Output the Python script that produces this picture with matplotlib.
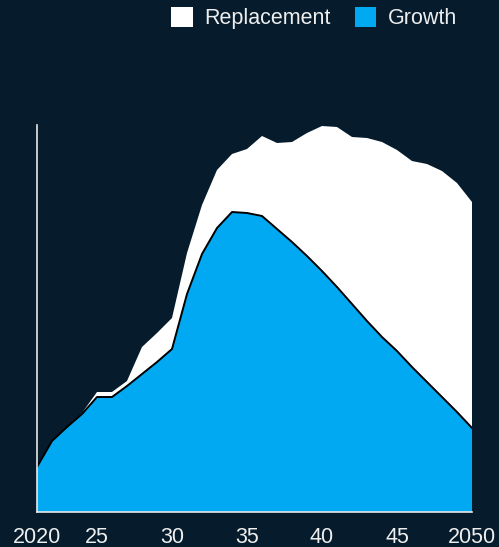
import matplotlib
matplotlib.use("Agg")
import matplotlib.pyplot as plt
from matplotlib.patches import Patch

# ---------------------------------------------------------------------------
# Data (arbitrary units)
# ---------------------------------------------------------------------------
years = list(range(2021, 2051))

growth = [4.5, 7.1, 8.5, 9.8, 11.5, 11.5, 12.6, 13.8, 15.0, 16.3,
          21.8, 25.8, 28.4, 30.0, 29.9, 29.6, 28.3, 27.0, 25.6, 24.1,
          22.5, 20.8, 19.1, 17.5, 16.1, 14.5, 13.0, 11.5, 10.0, 8.4]

replacement = [0.0, 0.0, 0.0, 0.1, 0.5, 0.5, 0.5, 2.7, 2.9, 3.1,
               4.1, 4.9, 5.8, 5.8, 6.4, 8.0, 8.6, 10.0, 12.3, 14.5,
               16.0, 16.7, 18.3, 19.5, 20.1, 20.6, 21.8, 22.6, 22.9, 22.6]

tick_years = [2021, 2025, 2030, 2035, 2040, 2045, 2050]
tick_labels = ["2020", "25", "30", "35", "40", "45", "2050"]

BG = "#061c2c"
BLUE = "#00a9f1"
WHITE = "#ffffff"
TEXT = "#eeeeee"

plt.rcParams["font.family"] = ["Liberation Sans", "DejaVu Sans"]

fig = plt.figure(figsize=(4.99, 5.47), dpi=100, facecolor=BG)
ax = fig.add_axes([37 / 499, 35 / 547, 435 / 499, 387 / 547])
ax.set_facecolor(BG)

ax.stackplot(years, growth, replacement, colors=[BLUE, WHITE],
             linewidth=0)
ax.plot(years, growth, color="#000000", linewidth=1.4)

ax.set_xlim(2021, 2050)
ax.set_ylim(0, 38.7)

for side in ("top", "right"):
    ax.spines[side].set_visible(False)
for side in ("left", "bottom"):
    ax.spines[side].set_color("#e8e8e8")
    ax.spines[side].set_linewidth(1.2)

ax.set_yticks([])
ax.set_xticks(tick_years)
ax.set_xticklabels(tick_labels)
ax.tick_params(axis="x", length=0, pad=11, labelsize=15.5, labelcolor=TEXT)

handles = [Patch(facecolor=WHITE, edgecolor="none", label="Replacement"),
           Patch(facecolor=BLUE, edgecolor="none", label="Growth")]
fig.legend(handles=handles, loc="upper right", ncol=2, frameon=False,
           bbox_to_anchor=(468 / 499, 1 + 4 / 547), borderpad=0,
           fontsize=15.5, labelcolor=TEXT, handlelength=1.0,
           handleheight=1.05, handletextpad=0.55, columnspacing=1.1)

fig.savefig("out.png", dpi=100, facecolor=BG)
